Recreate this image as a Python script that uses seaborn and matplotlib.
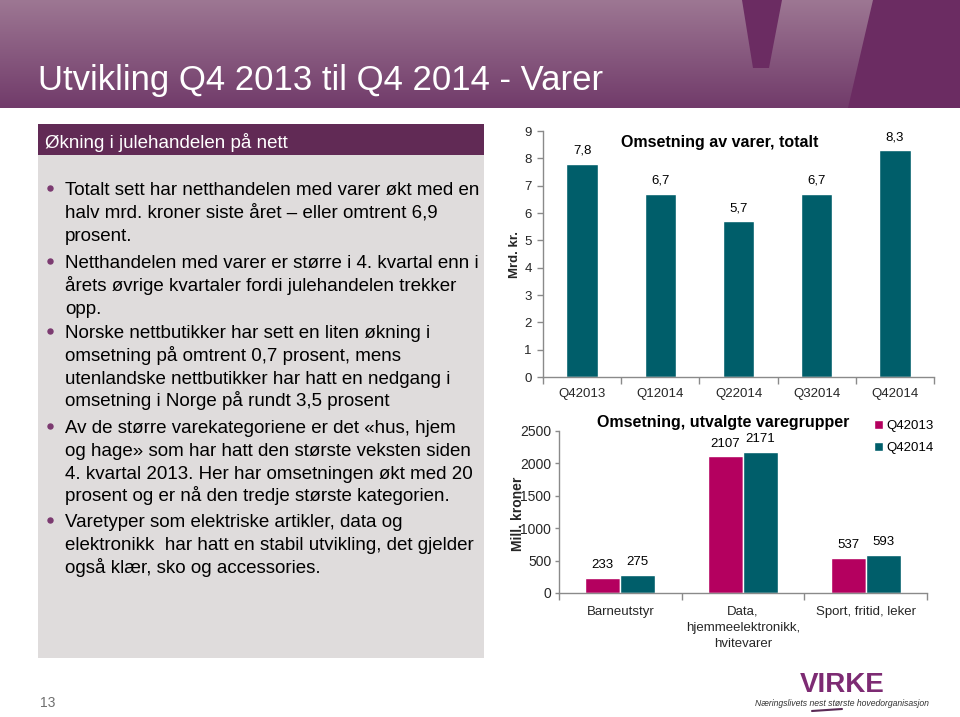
import numpy as np
import pandas as pd
import matplotlib
matplotlib.use("Agg")
import matplotlib.pyplot as plt
import seaborn as sns
from matplotlib import font_manager
from matplotlib.patches import Rectangle, Polygon
from matplotlib.colors import LinearSegmentedColormap

# ---------------- data ----------------
quarters = ["Q42013", "Q12014", "Q22014", "Q32014", "Q42014"]
total_values = [7.8, 6.7, 5.7, 6.7, 8.3]
y1_ticks = [0, 1, 2, 3, 4, 5, 6, 7, 8, 9]

groups = ["Barneutstyr", "Data,\nhjemmeelektronikk,\nhvitevarer", "Sport, fritid, leker"]
series_names = ["Q42013", "Q42014"]
group_q42013 = [233, 2107, 537]
group_q42014 = [275, 2171, 593]
y2_ticks = [0, 500, 1000, 1500, 2000, 2500]

slide_title = "Utvikling Q4 2013 til Q4 2014 - Varer"
box_title = "Økning i julehandelen på nett"
paragraphs = [
    ["Totalt sett har netthandelen med varer økt med en",
     "halv mrd. kroner siste året – eller omtrent 6,9",
     "prosent."],
    ["Netthandelen med varer er større i 4. kvartal enn i",
     "årets øvrige kvartaler fordi julehandelen trekker",
     "opp."],
    ["Norske nettbutikker har sett en liten økning i",
     "omsetning på omtrent 0,7 prosent, mens",
     "utenlandske nettbutikker har hatt en nedgang i",
     "omsetning i Norge på rundt 3,5 prosent"],
    ["Av de større varekategoriene er det «hus, hjem",
     "og hage» som har hatt den største veksten siden",
     "4. kvartal 2013. Her har omsetningen økt med 20",
     "prosent og er nå den tredje største kategorien."],
    ["Varetyper som elektriske artikler, data og",
     "elektronikk  har hatt en stabil utvikling, det gjelder",
     "også klær, sko og accessories."],
]
para_baselines = [195, 268, 338, 433, 527]

# ---------------- style ----------------
TEAL = "#005e6a"
MAGENTA = "#b4005f"
AXIS_GRAY = "#8a8a8a"
sns.set_theme(style="white")
plt.rcParams['font.family'] = ['Liberation Sans', 'DejaVu Sans']
plt.rcParams['text.color'] = 'black'

installed = {f.name for f in font_manager.fontManager.ttflist}
narrow_candidates = ['Liberation Sans Narrow', 'Arial Narrow', 'DejaVu Sans Condensed']
NARROW = next((n for n in narrow_candidates if n in installed), None)
narrow_family = ([NARROW] if NARROW else []) + ['Liberation Sans', 'DejaVu Sans']

W, H = 960, 717
fig = plt.figure(figsize=(9.6, 7.17), dpi=100)
fig.patch.set_facecolor('white')
renderer = fig.canvas.get_renderer()

bg = fig.add_axes([0, 0, 1, 1], zorder=0)
bg.axis('off')

# header gradient
cmap = LinearSegmentedColormap.from_list("hdr", ["#9d7793", "#713b6a"])
grad = np.linspace(0, 1, 256).reshape(-1, 1)
bg.imshow(grad, extent=[0, W, 108, 0], aspect='auto', cmap=cmap, zorder=0)
bg.add_patch(Polygon([(742, 0), (782, 0), (769, 68), (753, 68)], closed=True,
                     facecolor="#6b2c62", edgecolor='none', zorder=1))
bg.add_patch(Polygon([(873, 0), (960, 0), (960, 108), (848, 108)], closed=True,
                     facecolor="#6b2c62", edgecolor='none', zorder=1))
bg.set_xlim(0, W)
bg.set_ylim(H, 0)


def fit_text(x, y, s, target_w, size, **kw):
    t = bg.text(x, y, s, fontsize=size, **kw)
    w = t.get_window_extent(renderer=renderer).width
    if w > target_w:
        t.set_fontsize(size * target_w / w)
    return t


fit_text(38, 90, slide_title, 565, 30, color='white', va='baseline', ha='left',
         family=narrow_family, zorder=2)

# text box
bg.add_patch(Rectangle((38, 155), 446, 503, facecolor="#dfdcdc", edgecolor='none', zorder=1))
bg.add_patch(Rectangle((38, 124), 446, 31, facecolor="#612a55", edgecolor='none', zorder=1))
bg.text(45, 148, box_title, color='white', fontsize=13.5, va='baseline', ha='left', zorder=2)

LINE = 22.8
for para, y0 in zip(paragraphs, para_baselines):
    bg.plot([50], [y0 - 7], marker='o', markersize=3.6, color="#7b3a70", zorder=2)
    for i, line in enumerate(para):
        bg.text(65, y0 + i * LINE, line, fontsize=13.5, va='baseline', ha='left',
                color='black', zorder=2)

# page number and logo
bg.text(40, 703, "13", fontsize=10, color="#6f6f6f", va='center', ha='left')
fit_text(842, 692, "VIRKE", 85, 24, fontweight='bold', color="#7d2b73",
         va='baseline', ha='center', family=narrow_family)
bg.text(842, 704, "Næringslivets nest største hovedorganisasjon", fontsize=6.2,
        style='italic', color="#333333", va='center', ha='center')
bg.plot([812, 842], [711, 709], color="#5a2a55", lw=1.5)


def ax_rect(l, t, r, b):
    return [l / W, 1 - b / H, (r - l) / W, (b - t) / H]


def style_axis(ax):
    for s in ['top', 'right']:
        ax.spines[s].set_visible(False)
    for s in ['left', 'bottom']:
        ax.spines[s].set_color(AXIS_GRAY)
        ax.spines[s].set_linewidth(1.0)
    ax.set_facecolor('none')
    ax.grid(False)


# ---------------- chart 1 ----------------
ax1 = fig.add_axes(ax_rect(543, 131, 934, 377), zorder=3)
df1 = pd.DataFrame({"kvartal": quarters, "verdi": total_values})
sns.barplot(data=df1, x="kvartal", y="verdi", color=TEAL, saturation=1,
            width=0.40, ax=ax1)
style_axis(ax1)
ax1.set_xlim(-0.5, len(quarters) - 0.5)
ax1.set_ylim(0, 9)
ax1.set_yticks(y1_ticks)
ax1.set_yticklabels([str(t) for t in y1_ticks])
ax1.set_xticks(np.arange(-0.5, len(quarters), 1.0), minor=True)
ax1.tick_params(axis='y', left=True, length=4, width=1, color=AXIS_GRAY,
                labelsize=9.5, pad=4)
ax1.tick_params(axis='x', which='major', bottom=True, length=0, labelsize=9.5, pad=8)
ax1.tick_params(axis='x', which='minor', bottom=True, length=5, width=1, color=AXIS_GRAY)
ax1.set_xlabel("")
ax1.set_ylabel("Mrd. kr.", fontweight='bold', fontsize=9.5)
ax1.yaxis.set_label_coords(-0.056, 0.5)
ax1.bar_label(ax1.containers[0], labels=[f"{v:.1f}".replace('.', ',') for v in total_values],
              padding=5, fontsize=9.5)
bg.text(720, 143, "Omsetning av varer, totalt", fontsize=11.5, fontweight='bold',
        ha='center', va='center', zorder=4)

# ---------------- chart 2 ----------------
ax2 = fig.add_axes(ax_rect(559, 431, 927, 593), zorder=3)
df2 = pd.DataFrame({
    "gruppe": groups * 2,
    "serie": [series_names[0]] * len(groups) + [series_names[1]] * len(groups),
    "verdi": group_q42013 + group_q42014,
})
sns.barplot(data=df2, x="gruppe", y="verdi", hue="serie", palette=[MAGENTA, TEAL],
            saturation=1, width=0.57, ax=ax2)
style_axis(ax2)
ax2.set_xlim(-0.5, len(groups) - 0.5)
ax2.set_ylim(0, 2500)
ax2.set_yticks(y2_ticks)
ax2.set_yticklabels([str(t) for t in y2_ticks])
ax2.set_xticks(np.arange(-0.5, len(groups), 1.0), minor=True)
ax2.tick_params(axis='y', left=True, length=3, width=1, color=AXIS_GRAY,
                labelsize=10, pad=2.5)
ax2.tick_params(axis='x', which='major', bottom=True, length=0, labelsize=9.5, pad=9)
ax2.tick_params(axis='x', which='minor', bottom=True, length=5, width=1, color=AXIS_GRAY)
for lab in ax2.get_xticklabels():
    lab.set_linespacing(1.45)
ax2.set_xlabel("")
ax2.set_ylabel("Mill. kroner", fontweight='bold', fontsize=10)
ax2.yaxis.set_label_coords(-0.092, 0.49)
for cont, vals in zip(ax2.containers, [group_q42013, group_q42014]):
    ax2.bar_label(cont, labels=[str(v) for v in vals], padding=5, fontsize=9.5)
handles, labels = ax2.get_legend_handles_labels()
ax2.legend(handles, labels, loc='upper left', bbox_to_anchor=(874 / W, 1 - 420 / H),
           bbox_transform=fig.transFigure, frameon=False, fontsize=9.5,
           handlelength=0.65, handleheight=0.65, handletextpad=0.3,
           labelspacing=0.75, borderpad=0, borderaxespad=0)
bg.text(723, 422, "Omsetning, utvalgte varegrupper", fontsize=11.5, fontweight='bold',
        ha='center', va='center', zorder=4)

fig.savefig("out.png", dpi=100, facecolor='white')
